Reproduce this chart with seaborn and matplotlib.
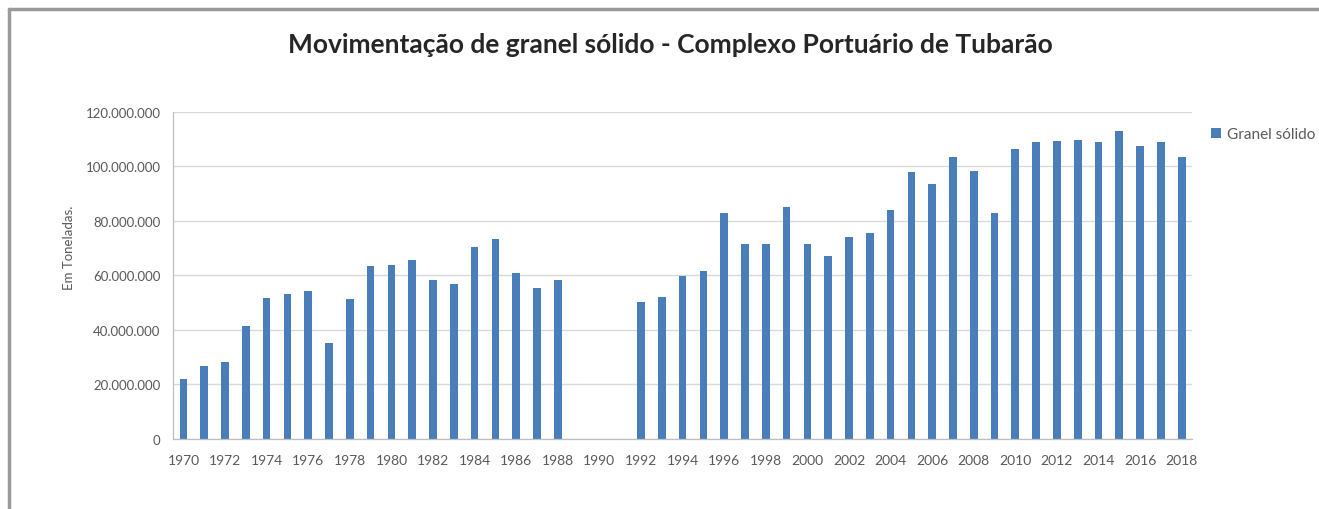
import numpy as np
import pandas as pd
import matplotlib.pyplot as plt
import seaborn as sns
from matplotlib.ticker import FuncFormatter, FixedLocator
from matplotlib.lines import Line2D
from matplotlib.patches import Patch

# Movimentação de granel sólido (toneladas), 1970-2018; 1989-1991 sem dados
ANOS = list(range(1970, 2019))
TONELADAS_MI = [
    22.0, 26.9, 28.4, 41.6, 51.6, 53.2, 54.4, 35.1, 51.4, 63.4,
    64.0, 65.7, 58.5, 56.9, 70.6, 73.4, 60.9, 55.3, 58.5, 0.0,
    0.0, 0.0, 50.4, 52.0, 59.7, 61.5, 82.8, 71.6, 71.6, 85.3,
    71.6, 67.3, 74.0, 75.6, 84.2, 97.9, 93.5, 103.4, 98.3, 82.8,
    106.4, 109.1, 109.5, 109.8, 109.1, 112.9, 107.6, 108.9, 103.4,
]
SERIE = "Granel sólido"
TITULO = "Movimentação de granel sólido - Complexo Portuário de Tubarão"

BLUE = "#4a7ebb"
GREY_TXT = "#595959"
GRID = "#d9d9d9"

df = pd.DataFrame({
    "Ano": [str(a) for a in ANOS],
    "Toneladas": np.array(TONELADAS_MI) * 1e6,
})

sns.set_style("white")
plt.rcParams["font.family"] = ["Lato", "DejaVu Sans"]

fig = plt.figure(figsize=(13.19, 5.10), dpi=100)
ax = fig.add_axes([0.1312, 0.1373, 0.7726, 0.6412])

sns.barplot(data=df, x="Ano", y="Toneladas", color=BLUE, width=0.37,
            linewidth=0, saturation=1, ax=ax)

n = len(ANOS)
ax.set_xlim(-0.5, n - 0.5)
ax.set_ylim(0, 120e6)
ax.set_yticks(np.arange(0, 120e6 + 1, 20e6))
ax.yaxis.set_major_formatter(
    FuncFormatter(lambda v, _: f"{int(v):,}".replace(",", "."))
)

# x labels every other year, tick marks on category boundaries
ax.set_xticks(range(0, n, 2))
ax.set_xticklabels([str(a) for a in ANOS[::2]])
ax.xaxis.set_minor_locator(FixedLocator(np.arange(-0.5, n, 1)))
ax.tick_params(axis="x", which="major", length=0, pad=11,
               labelsize=10, labelcolor=GREY_TXT)
ax.tick_params(axis="x", which="minor", length=4, width=0.8,
               color="#bfbfbf", direction="out")
ax.tick_params(axis="y", length=5, width=0.8, color="#bfbfbf",
               labelsize=9.5, labelcolor=GREY_TXT, pad=4)

ax.grid(axis="y", color=GRID, linewidth=1)
ax.set_axisbelow(True)
for side in ["top", "right"]:
    ax.spines[side].set_visible(False)
for side in ["left", "bottom"]:
    ax.spines[side].set_color("#bfbfbf")
    ax.spines[side].set_linewidth(0.9)

ax.set_xlabel("")
ax.set_ylabel("")
fig.text(0.052, 0.515, "Em Toneladas.", rotation=90, ha="center",
         va="center", fontsize=9.5, color=GREY_TXT)

fig.text(0.508, 0.912, TITULO, ha="center", va="center",
         fontsize=19, fontweight="bold", color="#262626")

handles = [Patch(facecolor=BLUE, edgecolor="none", label=SERIE)]
fig.legend(handles=handles, loc="center left", bbox_to_anchor=(0.908, 0.735),
           frameon=False, fontsize=11, handlelength=0.6, handleheight=0.6,
           handletextpad=0.4, labelcolor=GREY_TXT)

# moldura cinza (topo e esquerda)
fig.add_artist(Line2D([0.0065, 1.0], [0.981, 0.981], transform=fig.transFigure,
                      color="#9a9a9a", linewidth=2.5))
fig.add_artist(Line2D([0.0065, 0.0065], [0.0, 0.981], transform=fig.transFigure,
                      color="#9a9a9a", linewidth=2.5))

fig.savefig("out.png", dpi=100)
